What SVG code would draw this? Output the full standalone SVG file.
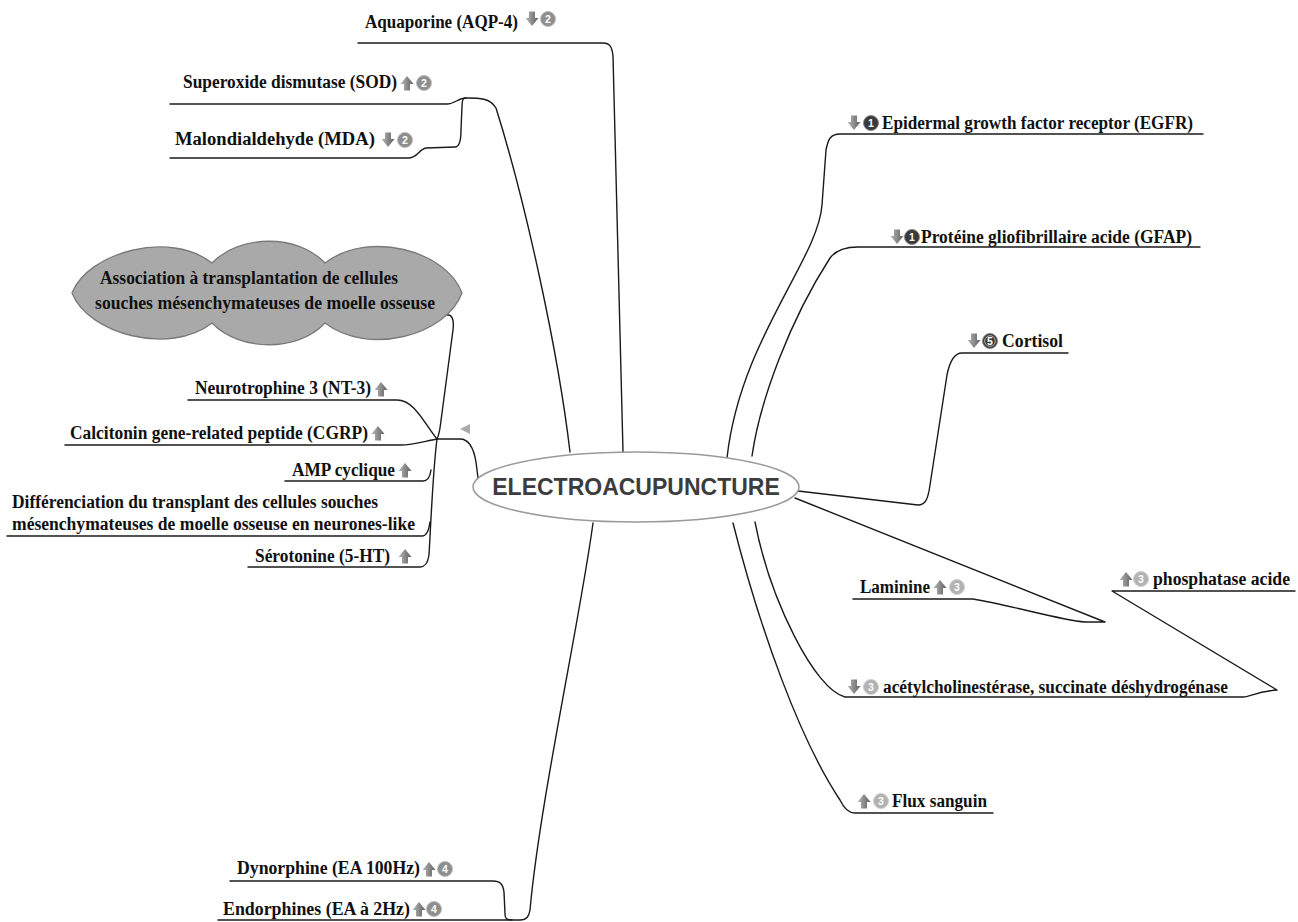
<svg xmlns="http://www.w3.org/2000/svg" xmlns:xlink="http://www.w3.org/1999/xlink" width="1298" height="922" viewBox="0 0 1298 922">
<style>
.lbl{font-family:"Liberation Serif","Times New Roman",serif;font-weight:bold;font-size:18px;fill:#111}
.main{font-family:"Liberation Sans",Arial,sans-serif;font-weight:bold;font-size:23px;fill:#3c3c3c}
.con{fill:none;stroke:#1a1a1a;stroke-width:1.4;stroke-linejoin:round;stroke-linecap:round}
.num{font-family:"Liberation Sans",Arial,sans-serif;font-weight:bold;font-size:10.5px;fill:#fff;text-anchor:middle}
.b-mid{fill:#8e8e8e;stroke:#bdbdbd;stroke-width:1}
.b-dark{fill:#3a3a3a;stroke:#888;stroke-width:1}
.b-light{fill:#b2b2b2;stroke:#d0d0d0;stroke-width:1}
</style>
<defs>
<linearGradient id="ag" x1="0" y1="0" x2="1" y2="0">
<stop offset="0" stop-color="#b8b8b8"/><stop offset="1" stop-color="#5e5e5e"/>
</linearGradient>
<polygon id="dn" points="-3,-7.5 3,-7.5 3,-1 6.5,-1 0,7 -6.5,-1 -3,-1" fill="url(#ag)"/>
<polygon id="up" points="0,-7 6.5,1 3,1 3,7.5 -3,7.5 -3,1 -6.5,1" fill="url(#ag)"/>
</defs>
<rect width="1298" height="922" fill="#fff"/>

<g id="connectors" class="con">
<path d="M358 43 L603 43 C610 43 612 47 613 56 L623 452"/>
<path d="M170 104 L447 104 C455 104 458 98 466 98 C480 98 490 98 496 108 C525 200 558 350 570 452"/>
<path d="M170 158 L408 158 C418 158 419 149 426 148 L455 147 C460 147 461 140 461 130 L462 106 C462 100 463 98 466 98"/>
<path d="M92 315 L448 315 C453 315 454 322 453 330 L440 428 C439 434 438 437 437 439"/>
<path d="M437 439 L460 439 C470 439 474 450 476 462 L478 478"/>
<path d="M188 400 L397 400 C415 400 425 425 437 439"/>
<path d="M65 445 L400 445 C415 445 425 441 437 439"/>
<path d="M248 567 L420 567 C426 567 428 562 429 555 C431 520 433 470 437 439"/>
<path d="M285 481 L423 481 C428 481 430 477 431 470"/>
<path d="M7 536 L422 536 C427 536 429 530 430 522"/>
<path d="M1203 134 L840 134 C830 134 828 140 826 150 L822 205 C818 260 740 340 727 458"/>
<path d="M1200 247 L858 247 C845 247 836 250 830 258 C790 320 760 400 752 456"/>
<path d="M1068 353 L962 353 C955 353 950 360 947 375 L930 485 C928 500 925 505 918 505 L798 491"/>
<path d="M853 599 L973 599 C1010 605 1060 620 1085 622 L1105 622 L795 498"/>
<path d="M755 522 C770 600 815 690 845 697 L1243 697 C1250 697 1255 692 1277 690 L1112 591 L1295 591"/>
<path d="M733 523 C760 630 800 740 840 800 Q846 813 855 813 L993 813"/>
<path d="M230 881 L493 881 C500 881 503 884 504 892 L505 914 C505 919 507 920 512 920"/>
<path d="M218 920 L520 920 C527 920 529 916 530 910 C540 800 580 620 593 523"/>
<polygon points="460,429 470,424 470,434" fill="#aaa" stroke="none"/>
</g>

<g id="center">
<ellipse cx="636" cy="487" rx="163" ry="35" fill="#fff" stroke="#9a9a9a" stroke-width="1.5"/>
<text class="main" x="636" y="495" text-anchor="middle">ELECTROACUPUNCTURE</text>
</g>

<g id="n-aquaporine">
<text class="lbl" x="365" y="28" textLength="153" lengthAdjust="spacingAndGlyphs">Aquaporine (AQP-4)</text>
<use xlink:href="#dn" x="532" y="19"/>
<circle class="b-mid" cx="548" cy="19" r="7.5"/><text class="num" x="548" y="22.7">2</text>
</g>

<g id="n-sod">
<text class="lbl" x="183" y="88" textLength="214" lengthAdjust="spacingAndGlyphs">Superoxide dismutase (SOD)</text>
<use xlink:href="#up" x="407" y="83"/>
<circle class="b-mid" cx="424" cy="83" r="7.5"/><text class="num" x="424" y="86.7">2</text>
</g>

<g id="n-mda">
<text class="lbl" x="175" y="145" style="font-size:18.6px">Malondialdehyde (MDA)</text>
<use xlink:href="#dn" x="388" y="140"/>
<circle class="b-mid" cx="405" cy="140" r="7.5"/><text class="num" x="405" y="143.7">2</text>
</g>

<g id="n-association">
<path d="M72 293 C88 252 170 230 212 263 C240 234 298 234 325 263 C368 230 446 250 462 293 C446 336 368 356 325 323 C298 352 240 352 212 323 C170 356 88 334 72 293 Z" fill="#a9a9a9" stroke="#7a7a7a" stroke-width="1.3"/>
<text class="lbl" x="100" y="284" textLength="298" lengthAdjust="spacingAndGlyphs">Association à transplantation de cellules</text>
<text class="lbl" x="95" y="309" textLength="340" lengthAdjust="spacingAndGlyphs">souches mésenchymateuses de moelle osseuse</text>
</g>

<g id="n-nt3">
<text class="lbl" x="195" y="394" textLength="176" lengthAdjust="spacingAndGlyphs">Neurotrophine 3 (NT-3)</text>
<use xlink:href="#up" x="381" y="389"/>
</g>

<g id="n-cgrp">
<text class="lbl" x="70" y="439" textLength="298" lengthAdjust="spacingAndGlyphs">Calcitonin gene-related peptide (CGRP)</text>
<use xlink:href="#up" x="378" y="433"/>
</g>

<g id="n-amp">
<text class="lbl" x="292" y="476" textLength="103" lengthAdjust="spacingAndGlyphs">AMP cyclique</text>
<use xlink:href="#up" x="405" y="470"/>
</g>

<g id="n-diff">
<text class="lbl" x="12" y="508" textLength="366" lengthAdjust="spacingAndGlyphs">Différenciation du transplant des cellules souches</text>
<text class="lbl" x="12" y="530" textLength="403" lengthAdjust="spacingAndGlyphs">mésenchymateuses de moelle osseuse en neurones-like</text>
</g>

<g id="n-serotonine">
<text class="lbl" x="255" y="562" textLength="135" lengthAdjust="spacingAndGlyphs">Sérotonine (5-HT)</text>
<use xlink:href="#up" x="405" y="556"/>
</g>

<g id="n-egfr">
<use xlink:href="#dn" x="854" y="123"/>
<circle class="b-dark" cx="871" cy="123" r="7.5"/><text class="num" x="871" y="126.7">1</text>
<text class="lbl" x="882" y="129" textLength="311" lengthAdjust="spacingAndGlyphs">Epidermal growth factor receptor (EGFR)</text>
</g>

<g id="n-gfap">
<use xlink:href="#dn" x="897" y="237"/>
<circle class="b-dark" cx="912" cy="237" r="7.5"/><text class="num" x="912" y="240.7">1</text>
<text class="lbl" x="921" y="243" textLength="271" lengthAdjust="spacingAndGlyphs">Protéine gliofibrillaire acide (GFAP)</text>
</g>

<g id="n-cortisol">
<use xlink:href="#dn" x="974" y="341"/>
<circle class="b-dark" cx="990" cy="341" r="7.5"/><circle cx="990" cy="341" r="5.3" fill="none" stroke="#ccc" stroke-width="0.8"/><text class="num" x="990" y="344.7">5</text>
<text class="lbl" x="1002" y="347" textLength="61" lengthAdjust="spacingAndGlyphs">Cortisol</text>
</g>

<g id="n-laminine">
<text class="lbl" x="860" y="593" textLength="70" lengthAdjust="spacingAndGlyphs">Laminine</text>
<use xlink:href="#up" x="940" y="587"/>
<circle class="b-light" cx="957" cy="587" r="7.5"/><text class="num" x="957" y="590.7">3</text>
</g>

<g id="n-phosphatase">
<use xlink:href="#up" x="1126" y="579"/>
<circle class="b-light" cx="1141" cy="579" r="7.5"/><text class="num" x="1141" y="582.7">3</text>
<text class="lbl" x="1153" y="585" textLength="137" lengthAdjust="spacingAndGlyphs">phosphatase acide</text>
</g>

<g id="n-acetyl">
<use xlink:href="#dn" x="854" y="687"/>
<circle class="b-light" cx="871" cy="687" r="7.5"/><text class="num" x="871" y="690.7">3</text>
<text class="lbl" x="883" y="693" textLength="345" lengthAdjust="spacingAndGlyphs">acétylcholinestérase, succinate déshydrogénase</text>
</g>

<g id="n-flux">
<use xlink:href="#up" x="864" y="801"/>
<circle class="b-light" cx="881" cy="801" r="7.5"/><text class="num" x="881" y="804.7">3</text>
<text class="lbl" x="892" y="807" textLength="95" lengthAdjust="spacingAndGlyphs">Flux sanguin</text>
</g>

<g id="n-dynorphine">
<text class="lbl" x="237" y="874" textLength="183" lengthAdjust="spacingAndGlyphs">Dynorphine (EA 100Hz)</text>
<use xlink:href="#up" x="429" y="869"/>
<circle class="b-mid" cx="445" cy="869" r="7.5"/><text class="num" x="445" y="872.7">4</text>
</g>

<g id="n-endorphines">
<text class="lbl" x="223" y="915" textLength="187" lengthAdjust="spacingAndGlyphs">Endorphines (EA à 2Hz)</text>
<use xlink:href="#up" x="419" y="909"/>
<circle class="b-mid" cx="434" cy="909" r="7.5"/><text class="num" x="434" y="912.7">4</text>
</g>
</svg>
